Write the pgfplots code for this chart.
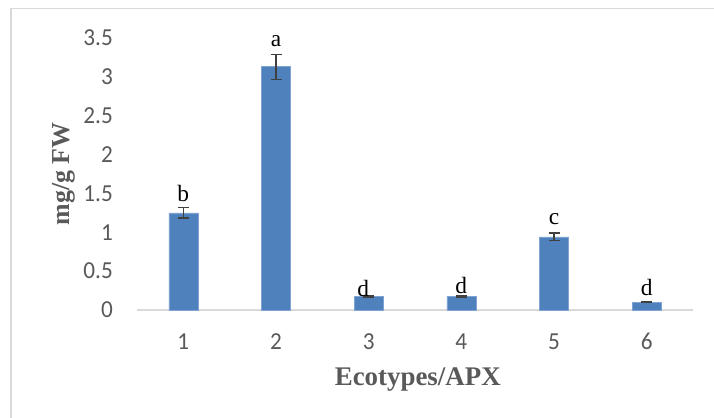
\documentclass[border=0pt]{standalone}
\usepackage{pgfplots}
\pgfplotsset{compat=1.18}
\usepackage{pgfplotstable}
\usepackage{fontspec}
\setmainfont{Liberation Serif}
\newfontfamily\carlito{Carlito}
\definecolor{barblue}{HTML}{4F81BD}
\definecolor{baredge}{HTML}{7FA3D2}
\definecolor{errgray}{HTML}{404040}
\definecolor{txtgray}{HTML}{595959}
\definecolor{linegray}{HTML}{D9D9D9}
\pgfplotstableread{
x y err
1 1.25 0.065
2 3.13 0.16
3 0.17 0.01
4 0.17 0.01
5 0.94 0.05
6 0.10 0.006
}\bars
\pgfplotstableread{
x y lab
1 1.393 b
2 3.385 a
2.94 0.169 d
4 0.208 d
5 1.094 c
6 0.186 d
}\letters
\begin{document}
\begin{tikzpicture}
\draw[linegray, line width=1.6bp] (11bp,0bp) -- (11bp,409.5bp) -- (714bp,409.5bp);
\begin{axis}[
  at={(137bp,108bp)}, anchor=south west,
  scale only axis, width=556bp, height=272bp,
  xmin=0.5, xmax=6.5, ymin=0, ymax=3.5,
  xtick={1,2,3,4,5,6}, ytick={0,0.5,1,1.5,2,2.5,3,3.5},
  axis x line*=bottom, axis y line*=left,
  x axis line style={draw=linegray, line width=1.6bp},
  y axis line style={draw=none},
  major tick length=0pt,
  /pgf/number format/assume math mode=true,
  yticklabel style={font=\carlito\fontsize{24.5}{26}\selectfont, text=txtgray, anchor=east, inner sep=0pt, xshift=-24bp, xscale=0.95},
  xticklabel style={font=\carlito\fontsize{24.5}{26}\selectfont, text=txtgray, anchor=center, inner sep=0pt, yshift=-31.5bp, xscale=0.95},
  xlabel={Ecotypes/APX},
  ylabel={mg/g FW},
  xlabel style={font=\bfseries\fontsize{27}{30}\selectfont, text=txtgray, at={(axis description cs:0.505,-0.257)}, anchor=center},
  ylabel style={font=\bfseries\fontsize{26}{30}\selectfont, text=txtgray, at={(axis description cs:-0.1313,0.5)}, anchor=center, rotate=0},
  clip=false,
]
\addplot[ybar, bar width=29bp, fill=barblue, draw=baredge, line width=0.6bp,
  error bars/.cd, y dir=both, y explicit,
  error bar style={color=errgray, line width=1.3bp},
  error mark options={rotate=90, mark size=5.5bp, line width=1.3bp, color=errgray}]
  table[x=x, y=y, y error=err] {\bars};
\addplot[draw=none, mark=none, nodes near coords, point meta=explicit symbolic,
  nodes near coords style={anchor=base, inner sep=0pt, font=\fontsize{23.5}{26}\selectfont, text=black}]
  table[x=x, y=y, meta=lab] {\letters};
\end{axis}
\pgfresetboundingbox
\path[use as bounding box] (0bp,0bp) rectangle (714bp,418bp);
\end{tikzpicture}
\end{document}
